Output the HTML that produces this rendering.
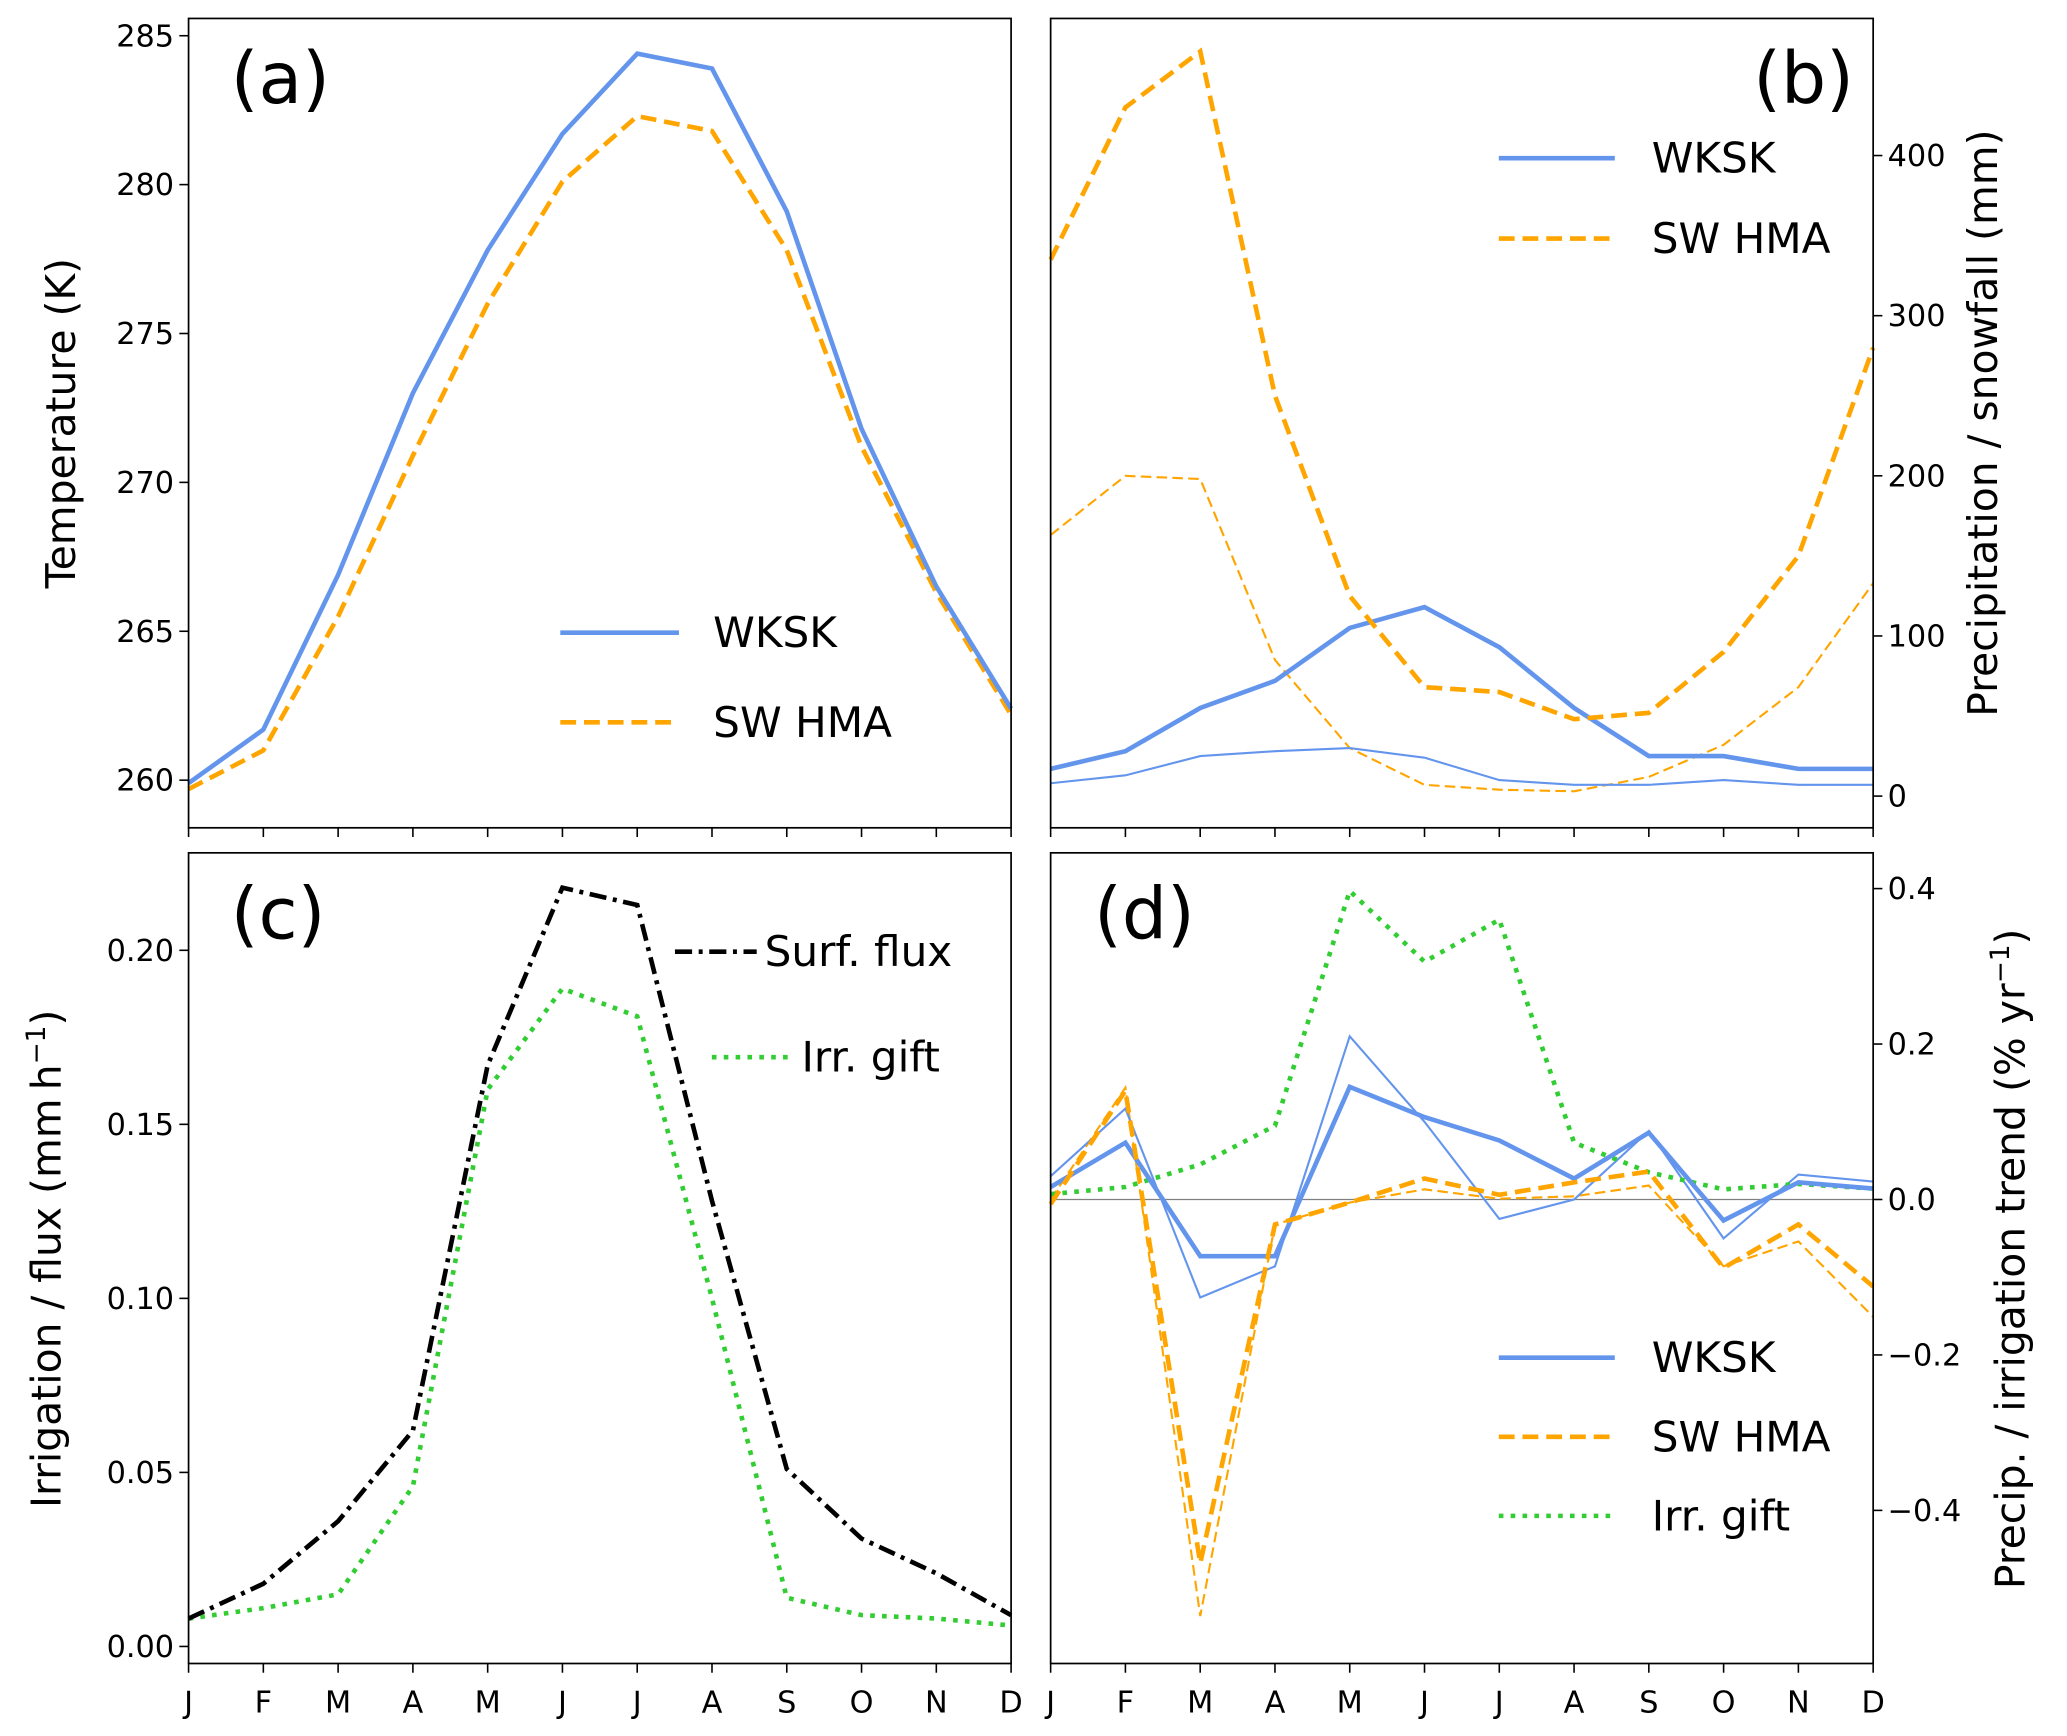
<!DOCTYPE html>
<html><head><meta charset="utf-8"><style>
html,body{margin:0;padding:0;background:#fff}
svg{display:block}
text{font-family:"DejaVu Sans","Liberation Sans",sans-serif;fill:#000}
</style></head><body>
<svg id="fig" width="2067" height="1736" viewBox="0 0 1568 1317" xmlns="http://www.w3.org/2000/svg"></svg>
<script>
const months=["J","F","M","A","M","J","J","A","S","O","N","D"];
const tempWKSK=[259.9,261.7,266.9,273.0,277.8,281.7,284.4,283.9,279.1,271.8,266.5,262.4];
const tempSW=[259.7,261.0,265.5,270.9,276.0,280.1,282.3,281.8,277.8,271.2,266.3,262.2];
const tempTicks=[260,265,270,275,280,285];
const precSWthick=[335,430,465,250,125,68,65,48,52,90,150,280];
const precSWthin=[163,200,198,85,30,7,4,3,12,32,68,133];
const precWKthick=[17,28,55,72,105,118,93,55,25,25,17,17];
const precWKthin=[8,13,25,28,30,24,10,7,7,10,7,7];
const precTicks=[0,100,200,300,400];
const fluxSurf=[0.008,0.018,0.036,0.062,0.167,0.218,0.213,0.128,0.051,0.031,0.021,0.009];
const fluxIrr=[0.008,0.011,0.015,0.046,0.160,0.189,0.181,0.100,0.014,0.009,0.008,0.006];
const fluxTicks=[0,0.05,0.10,0.15,0.20];
const fluxTickLabels=["0.00","0.05","0.10","0.15","0.20"];
const trWKthick=[0.016,0.073,-0.073,-0.073,0.145,0.106,0.076,0.027,0.086,-0.027,0.022,0.014];
const trWKthin=[0.030,0.117,-0.126,-0.086,0.210,0.100,-0.025,0.0,0.088,-0.050,0.032,0.023];
const trSWthick=[-0.006,0.140,-0.468,-0.032,-0.004,0.027,0.006,0.022,0.036,-0.088,-0.032,-0.112];
const trSWthin=[0.0,0.144,-0.536,-0.032,-0.004,0.013,0.001,0.004,0.018,-0.086,-0.054,-0.151];
const trIrr=[0.007,0.016,0.045,0.095,0.397,0.306,0.360,0.073,0.035,0.013,0.020,0.014];
const trTicks=[-0.4,-0.2,0.0,0.2,0.4];
const trTickLabels=["\u22120.4","\u22120.2","0.0","0.2","0.4"];

const NS="http://www.w3.org/2000/svg";
const svg=document.getElementById('fig');
function mk(tag,attrs,parent){const e=document.createElementNS(NS,tag);for(const k in attrs)e.setAttribute(k,attrs[k]);(parent||svg).appendChild(e);return e;}
const BLUE="#6495ed",ORANGE="#ffa500",GREEN="#32cd32";

function panel(name,x0,x1,y0,y1,vmin,vmax,side){
  const g=mk('g',{});
  
  
  const xs=i=>x0+i*(x1-x0)/11;
  const ys=v=>y1-(v-vmin)/(vmax-vmin)*(y1-y0);
  return {g,xs,ys,x0,x1,y0,y1,side};
}
function frame(p){
  const r=mk('rect',{x:p.x0,y:p.y0,width:p.x1-p.x0,height:p.y1-p.y0,fill:'none',stroke:'#000','stroke-width':1.3},p.g);
  
}
function xticks(p,labels){
  for(let i=0;i<12;i++){
    mk('line',{x1:p.xs(i),x2:p.xs(i),y1:p.y1,y2:p.y1+7,stroke:'#000','stroke-width':1.2},p.g);
    if(labels){const t=mk('text',{x:p.xs(i),y:p.y1+37,'font-size':23,'text-anchor':'middle'},p.g);t.textContent=months[i];
      }
  }
}
function yticks(p,vals,labels){
  vals.forEach((v,i)=>{
    const y=p.ys(v);
    if(p.side==='left'){
      mk('line',{x1:p.x0-7,x2:p.x0,y1:y,y2:y,stroke:'#000','stroke-width':1.2},p.g);
      const t=mk('text',{x:p.x0-11,y:y+8,'font-size':23,'text-anchor':'end'},p.g);t.textContent=labels[i];
      
    }else{
      mk('line',{x1:p.x1,x2:p.x1+7,y1:y,y2:y,stroke:'#000','stroke-width':1.2},p.g);
      const t=mk('text',{x:p.x1+11,y:y+8,'font-size':23,'text-anchor':'start'},p.g);t.textContent=labels[i];
      
    }
  });
}
function series(p,vals,color,w,dash,name){
  const pts=vals.map((v,i)=>p.xs(i).toFixed(1)+','+p.ys(v).toFixed(1)).join(' ');
  const a={points:pts,fill:'none',stroke:color,'stroke-width':w,'stroke-linejoin':'miter'};
  if(dash)a['stroke-dasharray']=dash;
  const l=mk('polyline',a,p.g);
  
}
function label(p,txt,x,y){const t=mk('text',{x:x,y:y,'font-size':54},p.g);t.textContent=txt;
  }
function legend(p,x,y,len,color,w,dash,txt,tx){
  const a={x1:x,x2:x+len,y1:y,y2:y,stroke:color,'stroke-width':w};if(dash)a['stroke-dasharray']=dash;
  const l=mk('line',a,p.g);
  const t=mk('text',{x:tx,y:y+11,'font-size':32},p.g);t.textContent=txt;
  
}
function ylabel(p,txt,x,y,rot){
  const t=mk('text',{x:x,y:y,'font-size':31,'text-anchor':'middle',transform:`rotate(${rot} ${x} ${y})`},p.g);
  t.innerHTML=txt;
  
}
const D1="12,6",D2="8,4",DOT="3.5,5.5",DD="13,5,3,5";

// (a)
const pa=panel('panel-a-temperature',143,767,14,628,258.4,285.58,'left');
series(pa,tempSW,ORANGE,3.5,D1,'line-sw-hma-temp');
series(pa,tempWKSK,BLUE,3.5,null,'line-wksk-temp');
frame(pa);xticks(pa,false);yticks(pa,tempTicks,tempTicks.map(String));
label(pa,'(a)',175,78);
legend(pa,425,480,90,BLUE,3.5,null,'WKSK',541);
legend(pa,425,548,90,ORANGE,3.5,D1,'SW HMA',541);
ylabel(pa,'Temperature (K)',57,321,-90);

// (b)
const pb=panel('panel-b-precipitation',797,1421,14,628,-19.8,485.6,'right');
series(pb,precSWthin,ORANGE,1.6,D2,'line-sw-hma-snowfall');
series(pb,precWKthin,BLUE,1.6,null,'line-wksk-snowfall');
series(pb,precWKthick,BLUE,3.5,null,'line-wksk-precip');
series(pb,precSWthick,ORANGE,3.5,D1,'line-sw-hma-precip');
frame(pb);xticks(pb,false);yticks(pb,precTicks,precTicks.map(String));
label(pb,'(b)',1330,78);
legend(pb,1137,120,88,BLUE,3.5,null,'WKSK',1253);
legend(pb,1137,181,88,ORANGE,3.5,D1,'SW HMA',1253);
ylabel(pb,'Precipitation / snowfall (mm)',1515,321,-90);

// (c)
const pc=panel('panel-c-irrigation',143,767,647,1262,-0.0049,0.228,'left');
series(pc,fluxIrr,GREEN,3.5,DOT,'line-irr-gift');
series(pc,fluxSurf,'#000',3.5,DD,'line-surf-flux');
frame(pc);xticks(pc,true);yticks(pc,fluxTicks,fluxTickLabels);
label(pc,'(c)',175,712);
legend(pc,512,722,62,'#000',3.5,DD,'Surf. flux',580);
legend(pc,540,802,62,GREEN,3.5,DOT,'Irr. gift',608);
ylabel(pc,'Irrigation / flux (mm\u2009h<tspan font-size="20" dy="-12">\u22121</tspan><tspan dy="12">)</tspan>',46,955,-90);

// (d)
const pd=panel('panel-d-trend',797,1421,647,1262,-0.597,0.446,'right');
const z=mk('line',{x1:797,x2:1421,y1:pd.ys(0),y2:pd.ys(0),stroke:'#808080','stroke-width':1},pd.g);

series(pd,trSWthin,ORANGE,1.6,D2,'line-sw-hma-trend-thin');
series(pd,trWKthin,BLUE,1.6,null,'line-wksk-trend-thin');
series(pd,trIrr,GREEN,3.5,DOT,'line-irr-gift-trend');
series(pd,trWKthick,BLUE,3.5,null,'line-wksk-trend');
series(pd,trSWthick,ORANGE,3.5,D1,'line-sw-hma-trend');
frame(pd);xticks(pd,true);yticks(pd,trTicks,trTickLabels);
label(pd,'(d)',830,712);
legend(pd,1137,1030,88,BLUE,3.5,null,'WKSK',1253);
legend(pd,1137,1090,88,ORANGE,3.5,D1,'SW HMA',1253);
legend(pd,1137,1150,88,GREEN,3.5,DOT,'Irr. gift',1253);
ylabel(pd,'Precip. / irrigation trend (% yr<tspan font-size="20" dy="-12">\u22121</tspan><tspan dy="12">)</tspan>',1536,955,-90);
</script>
</body></html>
